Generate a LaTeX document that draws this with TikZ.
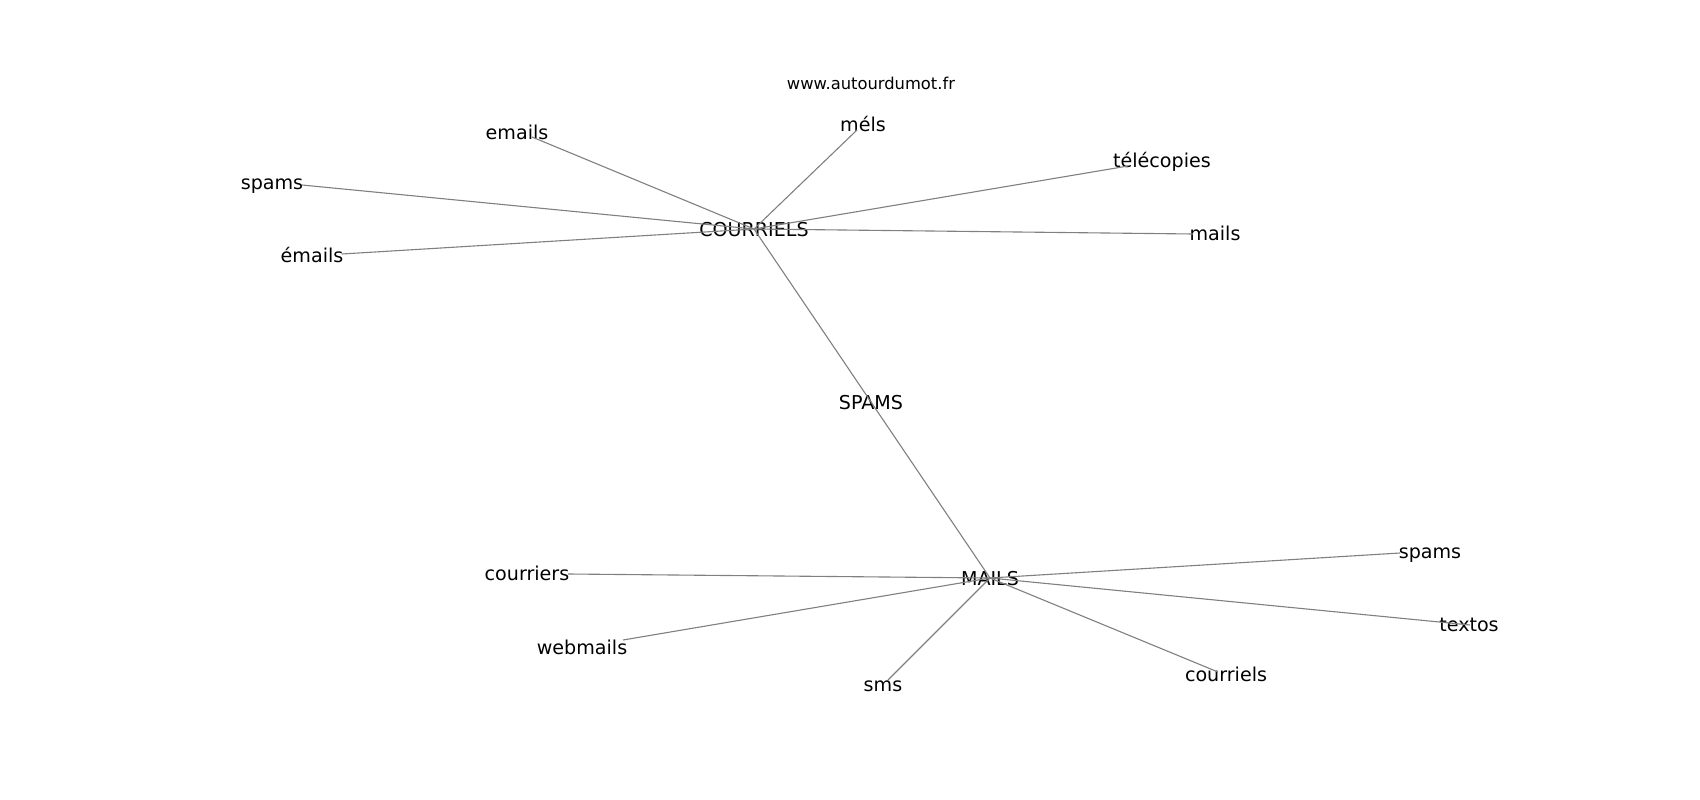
\documentclass[tikz,border=0pt]{standalone}
\usepackage{fontspec}
\setmainfont{DejaVu Sans}
\begin{document}
\begin{tikzpicture}[
        x=0.01in, y=-0.01in,
        word/.style = {
            inner sep=0pt, text height=0.76em, text depth=0.24em,
            yshift=-2.5pt, font=\fontsize{13.8}{16}\selectfont
        },
        link/.style = {draw=gray, line width=0.8pt}
    ]
        \useasboundingbox (0,0) rectangle (1700,800);

        \node[inner sep=0pt, text height=0.76em, text depth=0.24em, yshift=-2pt,
              font=\fontsize{11.8}{14}\selectfont] (title) at (871,83) {www.autourdumot.fr};

        % hubs
        \node[word] (COURRIELS) at (754,229) {COURRIELS};
        \node[word] (SPAMS)     at (871,402) {SPAMS};
        \node[word] (MAILS)     at (990,578) {MAILS};

        % words round COURRIELS
        \coordinate (e-emails)     at ( 532,137);
        \coordinate (e-mels)       at ( 857,130);
        \coordinate (e-telecopies) at (1128,166);
        \coordinate (e-spamsA)     at ( 302,185);
        \coordinate (e-emailsacc)  at ( 342,254);
        \coordinate (e-mails)      at (1193,234);

        \node[word] (emails)     at ( 517,132) {emails};
        \node[word] (mels)       at ( 863,124) {méls};
        \node[word] (telecopies) at (1162,160) {télécopies};
        \node[word] (spamsA)     at ( 272,182) {spams};
        \node[word] (emailsacc)  at ( 312,255) {émails};
        \node[word] (mails)      at (1215,233) {mails};

        % words round MAILS
        \coordinate (e-courriers) at ( 568,574);
        \coordinate (e-webmails)  at ( 623,640);
        \coordinate (e-sms)       at ( 888,680);
        \coordinate (e-courriels) at (1218,672);
        \coordinate (e-spamsB)    at (1400,553);
        \coordinate (e-textos)    at (1470,625);

        \node[word] (courriers) at ( 527,573) {courriers};
        \node[word] (webmails)  at ( 582,647) {webmails};
        \node[word] (sms)       at ( 883,684) {sms};
        \node[word] (courriels) at (1226,674) {courriels};
        \node[word] (spamsB)    at (1430,551) {spams};
        \node[word] (textos)    at (1469,624) {textos};

        \draw[link] ([yshift=2.5pt]COURRIELS.center) -- ([yshift=2.5pt]SPAMS.center)
                    -- ([yshift=2.5pt]MAILS.center);

        \draw[link] ([yshift=2.5pt]COURRIELS.center) -- (e-emails);
        \draw[link] ([yshift=2.5pt]COURRIELS.center) -- (e-mels);
        \draw[link] ([yshift=2.5pt]COURRIELS.center) -- (e-telecopies);
        \draw[link] ([yshift=2.5pt]COURRIELS.center) -- (e-spamsA);
        \draw[link] ([yshift=2.5pt]COURRIELS.center) -- (e-emailsacc);
        \draw[link] ([yshift=2.5pt]COURRIELS.center) -- (e-mails);

        \draw[link] ([yshift=2.5pt]MAILS.center) -- (e-courriers);
        \draw[link] ([yshift=2.5pt]MAILS.center) -- (e-webmails);
        \draw[link] ([yshift=2.5pt]MAILS.center) -- (e-sms);
        \draw[link] ([yshift=2.5pt]MAILS.center) -- (e-courriels);
        \draw[link] ([yshift=2.5pt]MAILS.center) -- (e-spamsB);
        \draw[link] ([yshift=2.5pt]MAILS.center) -- (e-textos);
    \end{tikzpicture}
\end{document}
